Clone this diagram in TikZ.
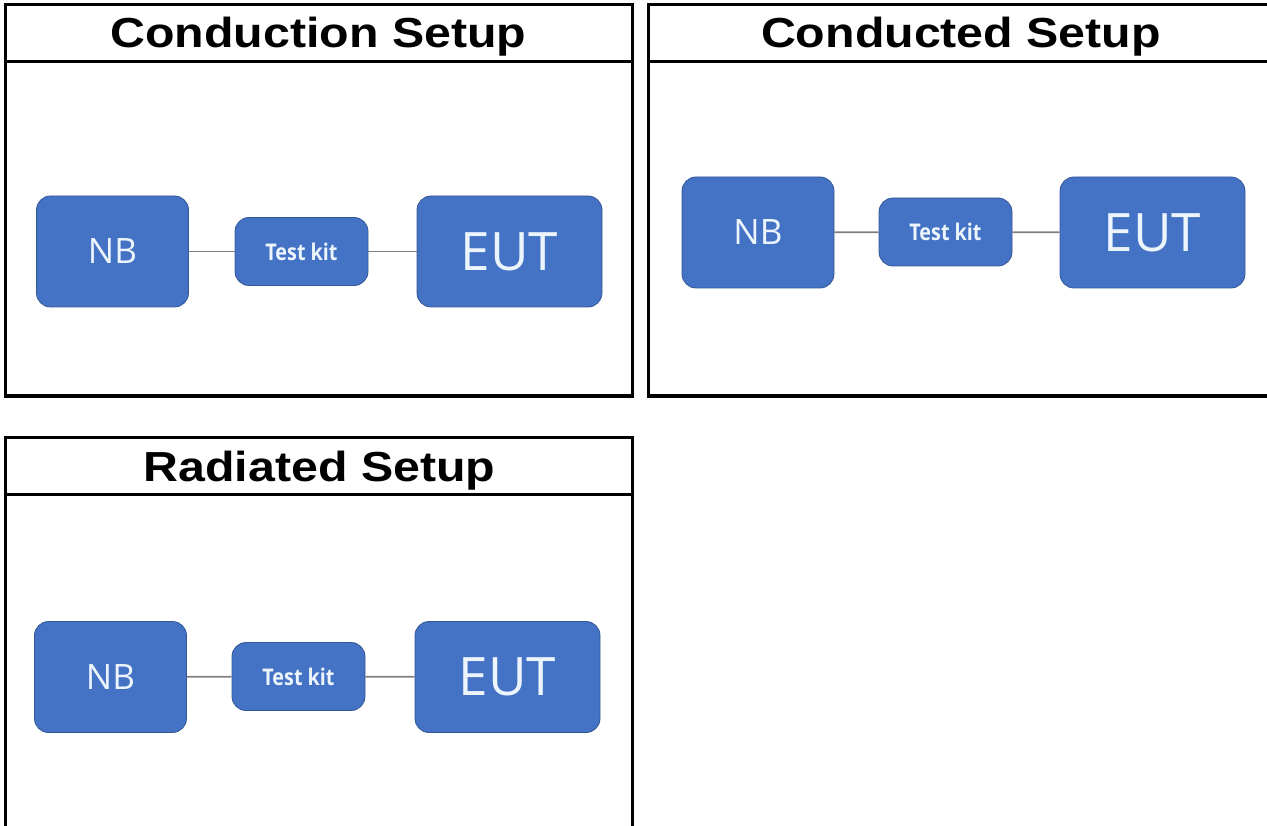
\documentclass[tikz,border=0pt]{standalone}
\usepackage{fontspec}
\setmainfont{Liberation Sans}
\newfontfamily\titlefont{Liberation Sans}
\newfontfamily\boxfont{Open Sans}
\definecolor{boxblue}{RGB}{68,114,196}
\definecolor{boxedge}{RGB}{52,88,150}
\definecolor{boxtext}{RGB}{236,244,252}
\definecolor{connc}{RGB}{128,128,128}
\begin{document}
\begin{tikzpicture}[x=1pt,y=-1pt,
  frame/.style={line width=3pt,black},
  title/.style={anchor=base,inner sep=0pt,font=\titlefont\bfseries\fontsize{42}{50}\selectfont},
  blk/.style={rounded corners=14pt,fill=boxblue,draw=boxedge,line width=0.8pt,text=boxtext,inner sep=0pt},
  big/.style={blk,minimum width=152pt,minimum height=111pt,font=\boxfont\fontsize{35}{40}\selectfont},
  bigeut/.style={blk,minimum width=185pt,minimum height=111pt,font=\boxfont\fontsize{53}{60}\selectfont},
  kit/.style={blk,minimum width=133pt,minimum height=68pt,font=\boxfont\bfseries\fontsize{23}{26}\selectfont},
  conn/.style={connc,line width=1.8pt}]
\useasboundingbox (0,0) rectangle (1267,826);
% panel frames
\draw[frame] (5,5) rectangle (632,396);
\draw[frame] (5,62) -- (632,62);
\draw[frame] (1268,5) -- (648,5) -- (648,396) -- (1268,396);
\draw[frame] (648,62) -- (1268,62);
\draw[frame] (5,828) -- (5,437) -- (632,437) -- (632,828);
\draw[frame] (5,494) -- (632,494);
% titles
\node[title] (t1) at (318.5,48) {\scalebox{1.15}[1]{Conduction Setup}};
\node[title] (t2) at (961,48) {\scalebox{1.15}[1]{Conducted Setup}};
\node[title] (t3) at (319.5,481) {\scalebox{1.15}[1]{Radiated Setup}};
% panel 1
\node[big] (nb1) at (112.5,251.5) {NB};
\node[kit] (tk1) at (301.5,251.5) {\scalebox{0.86}[1]{Test kit}};
\node[bigeut] (eut1) at (509.5,251.5) {EUT};
\draw[conn] (nb1) -- (tk1);
\draw[conn] (tk1) -- (eut1);
% panel 2
\node[big] (nb2) at (758,232.5) {NB};
\node[kit] (tk2) at (945.5,232) {\scalebox{0.86}[1]{Test kit}};
\node[bigeut] (eut2) at (1152.5,232.5) {EUT};
\draw[conn] (nb2) -- (tk2);
\draw[conn] (tk2) -- (eut2);
% panel 3
\node[big] (nb3) at (110.5,677) {NB};
\node[kit] (tk3) at (298.5,676.5) {\scalebox{0.86}[1]{Test kit}};
\node[bigeut] (eut3) at (507.5,677) {EUT};
\draw[conn] (nb3) -- (tk3);
\draw[conn] (tk3) -- (eut3);
\end{tikzpicture}
\end{document}
